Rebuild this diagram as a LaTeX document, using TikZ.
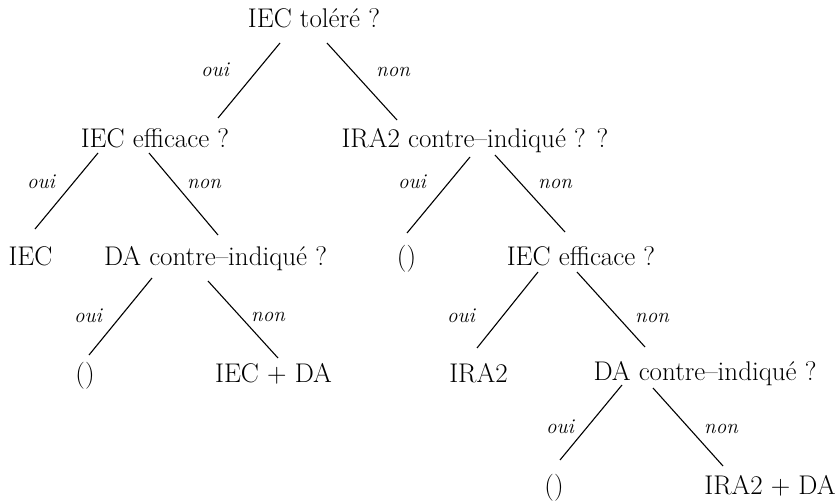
\documentclass[tikz,border=0pt]{standalone}
\begin{document}
\begin{tikzpicture}[x=1pt,y=-1pt,
  q/.style={anchor=base,inner sep=0pt,font=\fontsize{27}{32}\selectfont},
  lab/.style={anchor=base,inner sep=0pt,font=\fontsize{21}{25}\selectfont\itshape},
  edge/.style={draw=black,line width=1.1pt}]
\useasboundingbox (0,0) rectangle (835,503);
% questions and leaves
\node[q] (root) at (314,28) {IEC toléré ?};
\node[q] (a) at (155,147) {IEC efficace ?};
\node[q] (b) at (475,147) {IRA2 contre–indiqué ? ?};
\node[q] (a1) at (30.5,265) {IEC};
\node[q] (a2) at (215.5,265) {DA contre–indiqué ?};
\node[q] (b1) at (406.5,265) {()};
\node[q] (b2) at (581,265) {IEC efficace ?};
\node[q] (a21) at (85,382) {()};
\node[q] (a22) at (273.5,382) {IEC + DA};
\node[q] (b21) at (478.5,382) {IRA2};
\node[q] (b22) at (705,380) {DA contre–indiqué ?};
\node[q] (b221) at (554,494) {()};
\node[q] (b222) at (770,494) {IRA2 + DA};
% connectors
\draw[edge] ([shift={(-34,15)}]root.base) -- ([shift={(63,-29)}]a.base);
\draw[edge] ([shift={(13,15)}]root.base) -- ([shift={(-78,-27)}]b.base);
\draw[edge] ([shift={(-57,6)}]a.base) -- ([shift={(4.5,-36)}]a1.base);
\draw[edge] ([shift={(-6,6)}]a.base) -- ([shift={(2.5,-30)}]a2.base);
\draw[edge] ([shift={(-5,10)}]b.base) -- ([shift={(0.5,-32)}]b1.base);
\draw[edge] ([shift={(20,8)}]b.base) -- ([shift={(-16,-33)}]b2.base);
\draw[edge] ([shift={(-63.5,13)}]a2.base) -- ([shift={(4,-27)}]a21.base);
\draw[edge] ([shift={(-7.5,16)}]a2.base) -- ([shift={(4.5,-24)}]a22.base);
\draw[edge] ([shift={(-43,7)}]b2.base) -- ([shift={(-1.5,-34)}]b21.base);
\draw[edge] ([shift={(-4,7)}]b2.base) -- ([shift={(-60,-33)}]b22.base);
\draw[edge] ([shift={(-83,5)}]b22.base) -- ([shift={(6,-34)}]b221.base);
\draw[edge] ([shift={(-52,8)}]b22.base) -- ([shift={(-47,-28)}]b222.base);
% edge labels
\node[lab] (l1) at (215,77) {oui};
\node[lab] (l2) at (393,77) {non};
\node[lab] (l3) at (41,188) {oui};
\node[lab] (l4) at (204,188) {non};
\node[lab] (l5) at (412,188) {oui};
\node[lab] (l6) at (555,188) {non};
\node[lab] (l7) at (88,322) {oui};
\node[lab] (l8) at (268,321) {non};
\node[lab] (l9) at (461,322) {oui};
\node[lab] (l10) at (652,322) {non};
\node[lab] (l11) at (560,433) {oui};
\node[lab] (l12) at (721,433) {non};
\end{tikzpicture}
\end{document}
